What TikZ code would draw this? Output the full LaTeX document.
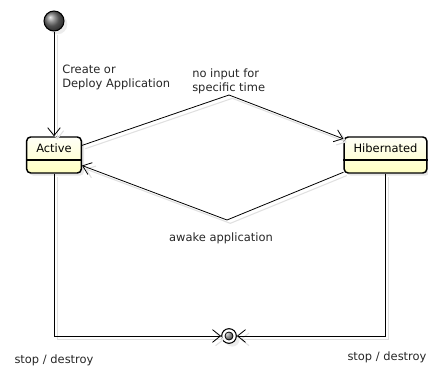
\documentclass[tikz,border=0pt]{standalone}
\usepackage{fontspec}
\setmainfont{DejaVu Sans}
\usetikzlibrary{arrows.meta,calc,shadows}
\tikzset{>={Straight Barb[length=6pt,width=9.5pt]}}
\colorlet{txtcol}{black!85}
\colorlet{shadcol}{black!12}
\colorlet{boxtop}{yellow!3}
\colorlet{boxbot}{yellow!24}
\tikzstyle{statebox}=[draw,line width=1.1pt,rounded corners=3pt,inner sep=0pt,
  minimum width=41pt,minimum height=27pt,text height=6pt,text depth=9pt,
  top color=boxtop,bottom color=boxbot,
  drop shadow={shadow xshift=2pt,shadow yshift=-2pt,opacity=0.2}]
\tikzstyle{startdot}=[circle,draw,line width=0.8pt,inner sep=0pt,minimum size=15pt,
  ball color=black!55,drop shadow={shadow xshift=2.5pt,shadow yshift=-2.5pt,opacity=0.15}]
\tikzstyle{enddot}=[circle,draw,line width=0.8pt,inner sep=0pt,minimum size=11pt,fill=white,
  drop shadow={shadow xshift=2.5pt,shadow yshift=-2.5pt,opacity=0.15},
  path picture={\shade[ball color=black!50,draw=black,line width=0.6pt]
    (path picture bounding box.center) circle (3pt);}]
\tikzstyle{trans}=[->,line width=0.6pt,
  preaction={draw,shadcol,line width=0.8pt,transform canvas={shift={(2.5pt,-2.5pt)}}}]
\tikzstyle{lbl}=[txtcol,inner sep=0pt,align=left]
\def\split#1{\draw[line width=0.8pt] ($(#1.west)+(0,5)$) -- ($(#1.east)+(0,5)$)}

\begin{document}
\begin{tikzpicture}[x=0.75pt,y=-0.75pt,font=\fontsize{8.6}{10.5}\selectfont]
  \useasboundingbox (0,0) rectangle (428,367);

  % states
  \node[startdot] (start) at (54,21) {};
  \node[statebox] (active) at (54,155) {Active};
  \node[statebox,minimum width=62pt] (hib) at (385.5,155) {Hibernated};
  \node[enddot] (final) at (229,336) {};
  \split{active};
  \split{hib};

  % bends of the two sleep/wake transitions
  \coordinate (sleep) at (229,95);
  \coordinate (wake) at (227,220);

  % transitions
  \draw[trans] (start) -- (active);
  \draw[trans] (active) -- (sleep) -- (hib);
  \draw[trans] (hib) -- (wake) -- (active);
  \draw[trans] (active) |- (final);
  \draw[trans] (hib) |- (final);

  % labels
  \node[lbl,anchor=west] (lblcreate) at (62,77) {Create or\\Deploy Application};
  \node[lbl,anchor=west] (lblsleep) at (192,81) {no input for\\specific time};
  \node[lbl] (lblwake) at (221,238) {awake application};
  \node[lbl] (lblstopa) at (54,360) {stop / destroy};
  \node[lbl] (lblstopb) at (387,357) {stop / destroy};
\end{tikzpicture}
\end{document}
